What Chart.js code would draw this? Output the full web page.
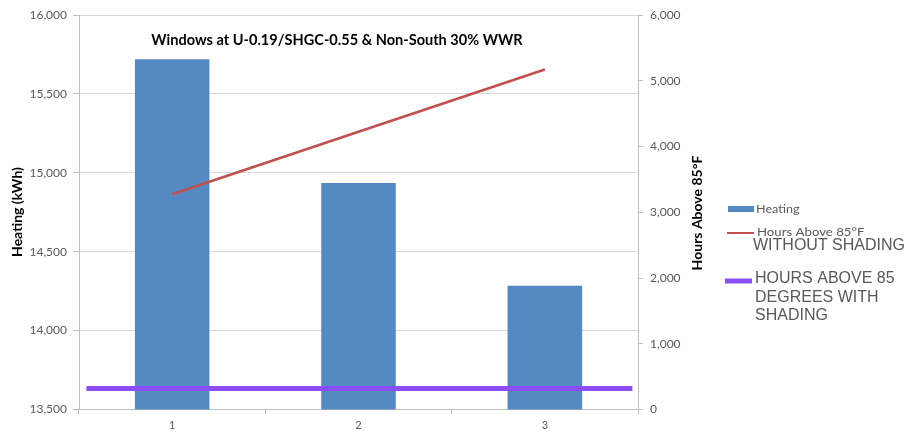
<!DOCTYPE html>
<html>
<head>
<meta charset="utf-8">
<script src="https://cdn.jsdelivr.net/npm/chart.js@4/dist/chart.umd.min.js"></script>
<style>
html,body{margin:0;padding:0;background:#fff;}
#wrap{position:relative;width:918px;height:438px;}
</style>
</head>
<body>
<div id="wrap"><canvas id="c" width="918" height="438"></canvas></div>
<script>
const categories = ['1', '2', '3'];
const heatingKWh = [15720, 14935, 14285];
const hoursAboveWithout = [3273, 4225, 5172];
const shadingX = [0.54, 3.47];
const hoursAboveWith = [320, 320];
const leftTicks = [13500, 14000, 14500, 15000, 15500, 16000];
const rightTicks = [0, 1000, 2000, 3000, 4000, 5000, 6000];

const titleText = 'Windows at U-0.19/SHGC-0.55 & Non-South 30% WWR';
const leftAxisTitle = 'Heating (kWh)';
const rightAxisTitle = 'Hours Above 85°F';

const BLUE = '#5589c3', RED = '#c0504d', PURPLE = '#8b4dfa';
const TICK = '#595959';
const fmt = v => v.toLocaleString('en-US');

function stretchText(ctx, text, x, y, sx) {
  ctx.save();
  ctx.translate(x, y);
  ctx.scale(sx, 1);
  ctx.fillText(text, 0, 0);
  ctx.restore();
}

const overlay = {
  id: 'overlay',
  afterDraw(chart) {
    const ctx = chart.ctx, ca = chart.chartArea;
    ctx.save();
    ctx.fillStyle = '#000';
    ctx.textBaseline = 'middle';
    // chart title
    ctx.font = 'bold 15px Lato';
    ctx.textAlign = 'center';
    ctx.save();
    ctx.translate(337, 40);
    ctx.scale(0.97, 1);
    ctx.fillText(titleText, 0, 0);
    ctx.restore();
    // left axis title
    ctx.font = 'bold 14px Lato';
    ctx.save();
    ctx.translate(17, 212);
    ctx.rotate(-Math.PI / 2);
    ctx.fillText(leftAxisTitle, 0, 0);
    ctx.restore();
    // right axis title
    ctx.save();
    ctx.translate(697, 213);
    ctx.rotate(-Math.PI / 2);
    ctx.fillText(rightAxisTitle, 0, 0);
    ctx.restore();
    // legend
    ctx.textAlign = 'left';
    ctx.fillStyle = BLUE;
    ctx.fillRect(728, 206, 26, 6);
    ctx.fillStyle = TICK;
    ctx.font = '12px Lato';
    stretchText(ctx, 'Heating', 756, 209.5, 1.05);
    ctx.strokeStyle = RED; ctx.lineWidth = 2;
    ctx.beginPath(); ctx.moveTo(727, 233); ctx.lineTo(754, 233); ctx.stroke();
    stretchText(ctx, 'Hours Above 85°F', 757, 232.5, 1.1);
    ctx.font = '16px "Liberation Sans"';
    ctx.fillText('WITHOUT SHADING', 753, 246);
    ctx.strokeStyle = PURPLE; ctx.lineWidth = 5;
    ctx.beginPath(); ctx.moveTo(725, 281); ctx.lineTo(752, 281); ctx.stroke();
    ctx.fillText('HOURS ABOVE 85', 755, 279);
    ctx.fillText('DEGREES WITH', 755, 297.5);
    ctx.fillText('SHADING', 755, 316);
    ctx.restore();
  }
};

new Chart(document.getElementById('c'), {
  type: 'bar',
  data: {
    labels: categories,
    datasets: [
      {
        type: 'line', label: 'Hours Above 85 Degrees With Shading',
        data: shadingX.map((x, i) => ({x: x, y: hoursAboveWith[i]})),
        xAxisID: 'x2', yAxisID: 'y1',
        borderColor: PURPLE, borderWidth: 5, pointRadius: 0, tension: 0, order: 0
      },
      {
        type: 'line', label: 'Hours Above 85°F Without Shading',
        data: hoursAboveWithout, yAxisID: 'y1', xAxisID: 'x',
        borderColor: RED, borderWidth: 2.5, pointRadius: 0, tension: 0, order: 1
      },
      {
        type: 'bar', label: 'Heating', data: heatingKWh, yAxisID: 'y', xAxisID: 'x',
        backgroundColor: BLUE, borderWidth: 0, grouped: false,
        categoryPercentage: 1, barPercentage: 0.4, order: 2
      }
    ]
  },
  options: {
    responsive: false, animation: false,
    layout: { padding: { top: 15, right: 0, left: 0, bottom: 0 } },
    plugins: { legend: { display: false }, tooltip: { enabled: false }, title: { display: false } },
    scales: {
      x: {
        type: 'category', offset: true,
        grid: { display: true, drawOnChartArea: false, offset: true, tickLength: 5, color: '#bfbfbf' },
        border: { color: '#bfbfbf' },
        ticks: { color: TICK, font: { family: 'Lato', size: 11 }, padding: 4 },
        afterFit(s) { s.height = 28.5; }
      },
      x2: { type: 'linear', min: 0.5, max: 3.5, display: false, offset: false, grid: { offset: false } },
      y: {
        position: 'left', min: 13500, max: 16000,
        afterBuildTicks(s) { s.ticks = leftTicks.map(v => ({value: v})); },
        grid: { color: '#d9d9d9', tickLength: 6, tickColor: '#bfbfbf' },
        border: { color: '#bfbfbf' },
        ticks: { color: TICK, font: { family: 'Lato', size: 12 }, padding: 6, callback: v => fmt(v) },
        afterFit(s) { s.width = 79; }
      },
      y1: {
        position: 'right', min: 0, max: 6000,
        afterBuildTicks(s) { s.ticks = rightTicks.map(v => ({value: v})); },
        grid: { drawOnChartArea: false, tickLength: 5, color: '#bfbfbf' },
        border: { color: '#bfbfbf' },
        ticks: { color: TICK, font: { family: 'Lato', size: 12 }, padding: 7, callback: v => fmt(v) },
        afterFit(s) { s.width = 280; }
      }
    }
  },
  plugins: [overlay]
});
</script>
</body>
</html>
